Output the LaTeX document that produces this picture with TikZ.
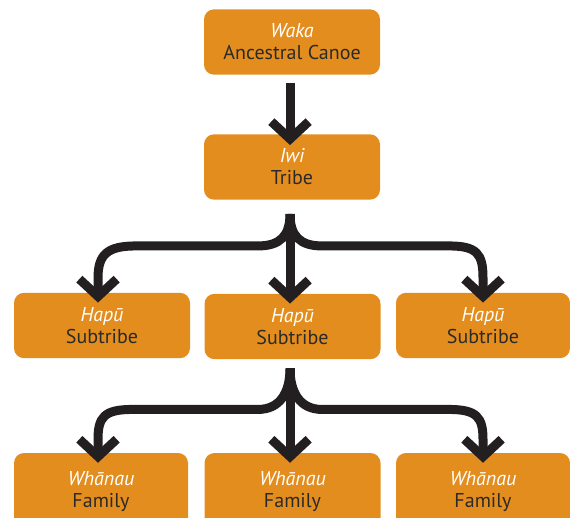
\documentclass[tikz,border=0pt]{standalone}
\usepackage{fontspec}
\setmainfont{PT Sans}
\usetikzlibrary{arrows.meta,calc}
\definecolor{boxorange}{HTML}{E38D1E}
\definecolor{arrowdark}{HTML}{231F20}
\definecolor{textdark}{HTML}{2B2A29}
\tikzset{
  unitbox/.style={rectangle, rounded corners=7.5pt, fill=boxorange, draw=none,
    minimum width=132pt, minimum height=49pt, inner sep=0pt, align=center,
    font=\fontsize{15}{16.5}\selectfont, text=textdark},
  lowbox/.style={unitbox, minimum height=57.75pt},
  conn/.style={draw=arrowdark, line width=6.75pt,
    -{Straight Barb[length=13pt,width=28pt]}}
}
\newcommand{\mi}[1]{\textcolor{white}{\itshape #1}}
\begin{document}
\begin{tikzpicture}[x=0.75pt,y=-0.75pt]
\useasboundingbox (0,0) rectangle (570,517);
\node[unitbox] (waka) at (292,42) {\mi{Waka}\\Ancestral Canoe};
\node[unitbox] (iwi) at (292,167) {\mi{Iwi}\\Tribe};
\node[unitbox] (h1) at (102,325.5) {\mi{Hapū}\\Subtribe};
\node[unitbox] (h2) at (292.5,326.5) {\mi{Hapū}\\Subtribe};
\node[unitbox, minimum width=130.5pt] (h3) at (483,325.5) {\mi{Hapū}\\Subtribe};
\node[lowbox, minimum width=130.5pt] (w1) at (101,491.5) {\mi{Whānau}\\Family};
\node[lowbox] (w2) at (292.5,491.5) {\mi{Whānau}\\Family};
\node[lowbox, minimum width=130.5pt] (w3) at (483,491.5) {\mi{Whānau}\\Family};
% connectors
\coordinate (t0) at ($(waka.south)+(-2,8)$);
\coordinate (t1) at ($(iwi.north)+(-2,11)$);
\draw[conn] (t0) -- (t1);
\coordinate (s1) at ($(iwi.south)+(-2,14)$);
\draw[conn] (s1) -- ($(h2.north)+(-2.5,10)$);
\draw[conn] (s1) .. controls ($(s1)+(0,22)$) and ($(s1)+(-10,32)$) .. ($(s1)+(-32,32)$)
  -- ($(h1.north |- s1)+(34,32)$)
  .. controls ($(h1.north |- s1)+(6,32)$) and ($(h1.north |- s1)+(-4,40)$) .. ($(h1.north |- s1)+(-4,64)$)
  -- ($(h1.north)+(-4,10)$);
\draw[conn] (s1) .. controls ($(s1)+(0,22)$) and ($(s1)+(10,32)$) .. ($(s1)+(32,32)$)
  -- ($(h3.north |- s1)+(-34,32)$)
  .. controls ($(h3.north |- s1)+(-6,32)$) and ($(h3.north |- s1)+(0,40)$) .. ($(h3.north |- s1)+(0,64)$)
  -- ($(h3.north)+(0,10)$);
\coordinate (s2) at ($(h2.south)+(-2.5,9)$);
\draw[conn] (s2) -- ($(w2.north)+(-2.5,10)$);
\draw[conn] (s2) .. controls ($(s2)+(0,24)$) and ($(s2)+(-10,41)$) .. ($(s2)+(-32,41)$)
  -- ($(w1.north |- s2)+(31,41)$)
  .. controls ($(w1.north |- s2)+(3,41)$) and ($(w1.north |- s2)+(-3,49)$) .. ($(w1.north |- s2)+(-3,71)$)
  -- ($(w1.north)+(-3,10)$);
\draw[conn] (s2) .. controls ($(s2)+(0,24)$) and ($(s2)+(10,41)$) .. ($(s2)+(32,41)$)
  -- ($(w3.north |- s2)+(-34,41)$)
  .. controls ($(w3.north |- s2)+(-6,41)$) and ($(w3.north |- s2)+(0,49)$) .. ($(w3.north |- s2)+(0,71)$)
  -- ($(w3.north)+(0,10)$);
\end{tikzpicture}
\end{document}
